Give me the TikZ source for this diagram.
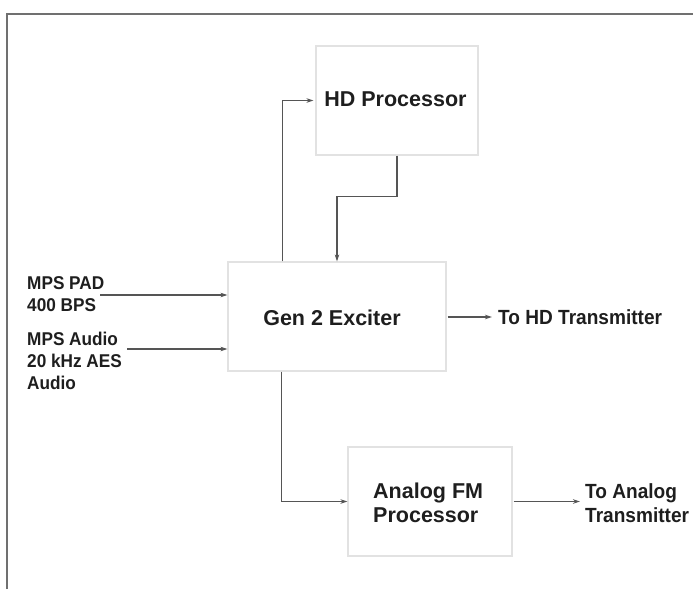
\documentclass[tikz,border=0pt]{standalone}
\usepackage{fontspec}
\setmainfont{Liberation Sans}
\usetikzlibrary{arrows.meta}
\definecolor{txt}{HTML}{1E1E1E}
\definecolor{conn}{HTML}{555555}
\definecolor{boxc}{HTML}{E2E2E2}
\definecolor{frame}{HTML}{707070}
\tikzset{
  blk/.style={draw=boxc, line width=1.2pt, minimum width=#1},
  lbl/.style={text=txt, font=\bfseries\fontsize{18.5}{22}\selectfont\addfontfeature{FakeStretch=0.93}, align=left, inner sep=0pt},
  rlbl/.style={text=txt, font=\bfseries\fontsize{20.5}{24}\selectfont\addfontfeature{FakeStretch=0.93}, align=left, inner sep=0pt},
  big/.style={text=txt, font=\bfseries\fontsize{21.5}{24}\selectfont, align=left, inner sep=0pt},
  wire/.style={draw=conn, line width=1.1pt, -{Stealth[length=7pt,width=4.5pt]}},
}
\begin{document}
\begin{tikzpicture}[x=1pt,y=-1pt]
\useasboundingbox (0,0) rectangle (693,589);
% frame
\draw[frame, line width=1.2pt] (7,589) -- (7,14) -- (693,14);
% blocks
\node[blk=162pt, minimum height=109pt] (hd) at (397,100.5) {};
\node[big] (hdt) at (395.5,99) {HD Processor};
\node[blk=218pt, minimum height=109pt] (gen) at (337,316.5) {};
\node[big] (gent) at (332,318) {Gen 2 Exciter};
\node[blk=164pt, minimum height=109pt] (afm) at (430,501.5) {};
\node[big, anchor=west] (afmt) at (373,503) {Analog FM\\Processor};
% labels
\node[lbl, anchor=north west] (pad) at (27,276) {MPS PAD\\400 BPS};
\node[lbl, anchor=north west] (aud) at (27,332) {MPS Audio\\20 kHz AES\\Audio};
\node[rlbl, anchor=west] (tohd) at (498,317) {To HD Transmitter};
\node[rlbl, anchor=west] (toan) at (585,503) {To Analog\\Transmitter};
\coordinate (padend) at (100,295);
\coordinate (audend) at (127,349);
% connectors
\draw[wire] (padend) -- (gen.west |- padend);
\draw[wire] (audend) -- (gen.west |- audend);
\draw[wire, shorten >=2pt] ([xshift=55pt]gen.north west) |- (hd.west);
\draw[wire] (hd.south) -- ++(0,41) -| (gen.north);
\draw[wire] ([xshift=54pt]gen.south west) |- (afm.west);
\draw[wire, shorten <=1pt, shorten >=6pt] (gen.east |- tohd) -- (tohd.west);
\draw[wire, shorten <=1pt, shorten >=5pt] (afm.east) -- (afm.east -| toan.west);
\end{tikzpicture}
\end{document}
